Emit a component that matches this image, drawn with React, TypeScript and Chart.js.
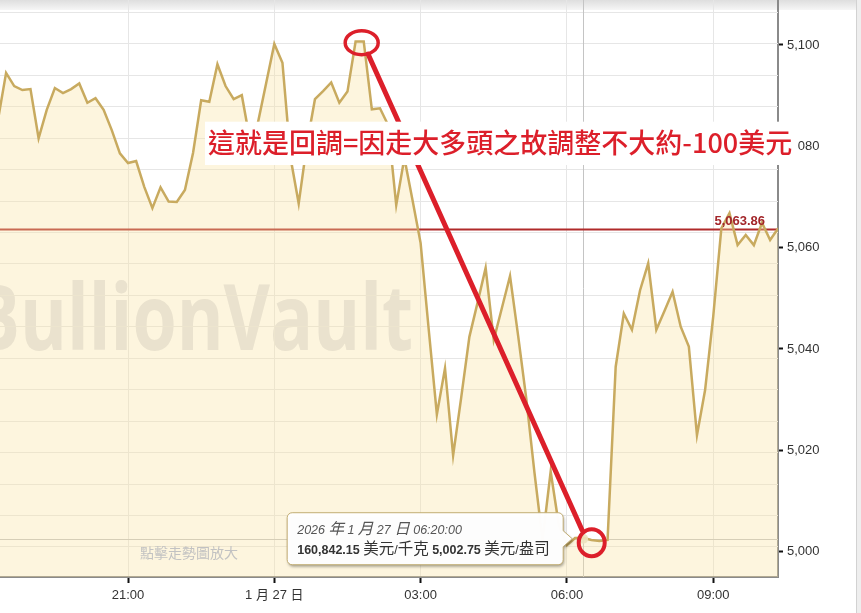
import { useEffect, useRef } from 'react';
import { Chart, registerables } from 'chart.js';

Chart.register(...registerables);

// ---- data ----
// minutes counted from 1月26日 00:00; one price every 10 minutes from 18:20
const START_MINUTE = 1100;
const STEP_MINUTES = 10;
const PRICES = [
  5085.2, 5094.5, 5091.9, 5091.1, 5091.3, 5081.6, 5087.2, 5091.5, 5090.5, 5091.3,
  5092.4, 5088.6, 5089.5, 5087.2, 5083.2, 5078.6, 5076.7, 5077.1, 5072.0, 5067.8,
  5071.9, 5069.1, 5069.0, 5071.4, 5078.7, 5089.1, 5088.8, 5096.2, 5091.9, 5089.3,
  5090.1, 5081.2, 5084.8, 5092.5, 5100.2, 5096.5, 5077.7, 5068.7, 5080.3, 5089.3,
  5090.9, 5092.6, 5088.6, 5090.8, 5100.7, 5100.7, 5087.3, 5087.5, 5084.2, 5068.4,
  5077.7, 5069.4, 5060.9, 5043.8, 5027.1, 5036.2, 5019.0, 5030.5, 5042.4, 5049.1,
  5056.0, 5041.8, 5048.1, 5054.4, 5042.6, 5030.2, 5015.7, 5002.3, 5015.8, 5005.3,
  5001.3, 5002.7, 5002.75, 5002.3, 5002.1, 5002.3, 5036.5, 5047.0, 5043.8, 5051.6,
  5056.9, 5043.8, 5047.5, 5051.3, 5044.4, 5040.5, 5023.0, 5031.9, 5046.4, 5063.8,
  5066.8, 5060.5, 5062.5, 5060.5, 5064.9, 5061.5, 5063.86,
];
const X_MIN = 1102.5;
const X_MAX = 2059.7;
const Y_MIN = 4995.0;
const Y_MAX = 5108.88;
const X_TICKS = [1260, 1440, 1620, 1800, 1980];
const X_TICK_LABELS = ['21:00', '1 月 27 日', '03:00', '06:00', '09:00'];
const Y_TICKS = [5000, 5020, 5040, 5060, 5080, 5100];
const GRID_ORIGIN = 5100.34;
const GRID_STEP = 6.207;
const CURRENT_PRICE = 5063.86;
const CURRENT_PRICE_LABEL = '5,063.86';

const HOVER_INDEX = 72;
const HOVER_DATE = '2026 年 1 月 27 日 06:20:00';
const HOVER_PER_KG = '160,842.15';
const HOVER_PER_OZ = '5,002.75';
const UNIT_KG = ' 美元/千克 ';
const UNIT_OZ = ' 美元/盎司';

const WATERMARK = 'BullionVault';
const CLICK_HINT = '點擊走勢圖放大';
const NOTE_TEXT = '這就是回調=因走大多頭之故調整不大約-100美元';
// annotation anchors in data space [minute, price]
const NOTE_BOX_ANCHOR = [1354.7, 5080.6];
const PEAK_MARK = [1547.5, 5100.45];
const TROUGH_MARK = [1830.5, 5001.77];
const ARROW_FROM = [1555.3, 5098.22];
const ARROW_TO = [1818.6, 5004.28];

const FONT = '"Liberation Sans", Arial, "Noto Sans CJK TC", sans-serif';
const CJK_FONT = '"Noto Sans CJK TC", sans-serif';
const RED = '#dc1f2a';

// draw text mixing latin (latinSize) and CJK (cjkSize) runs
function drawMixed(ctx: any, text: string, x: number, y: number, style: string, latinSize: number, cjkSize: number) {
  const runs = text.match(/[\u3000-\u9fff\uff00-\uffef]+|[^\u3000-\u9fff\uff00-\uffef]+/g) || [];
  let cx = x;
  for (const run of runs) {
    const cjk = /[\u3000-\u9fff\uff00-\uffef]/.test(run);
    ctx.font = style + (cjk ? cjkSize + 'px ' + CJK_FONT : latinSize + 'px ' + FONT);
    ctx.fillText(run, cx, y);
    cx += ctx.measureText(run).width;
  }
  return cx;
}

export default function App() {
  const ref = useRef<HTMLCanvasElement>(null);

  useEffect(() => {
    const canvas = ref.current!;
    const data = PRICES.map((v, i) => ({ x: START_MINUTE + i * STEP_MINUTES, y: v }));

    const overlay = {
      id: 'overlay',
      beforeDraw(chart: any) {
        const { ctx, width, height, chartArea } = chart;
        ctx.save();
        ctx.fillStyle = '#ffffff';
        ctx.fillRect(0, 0, width, height);
        const g = ctx.createLinearGradient(0, 0, 0, 10);
        g.addColorStop(0, '#dedede');
        g.addColorStop(1, '#f6f6f6');
        ctx.fillStyle = g;
        ctx.fillRect(0, 0, 856, 10);
        ctx.fillStyle = '#eeeeee';
        ctx.fillRect(856, 0, width - 856, height);
        ctx.fillStyle = '#d2d2d2';
        ctx.fillRect(856, 0, 1, height);
        // watermark
        ctx.save();
        ctx.beginPath();
        ctx.rect(chartArea.left, chartArea.top, chartArea.right - chartArea.left, chartArea.bottom - chartArea.top);
        ctx.clip();
        ctx.font = 'bold 84px "Open Sans", Lato, sans-serif';
        const tail = ctx.measureText(WATERMARK.slice(1)).width;
        const sx = 393 / tail;
        ctx.translate(chartArea.left + 413, chartArea.top + 350);
        ctx.scale(sx, 1.08);
        ctx.textAlign = 'right';
        ctx.textBaseline = 'alphabetic';
        ctx.fillStyle = '#e2e2e6';
        ctx.fillText(WATERMARK, 0, 0);
        ctx.restore();
        ctx.restore();
      },
      beforeDatasetsDraw(chart: any) {
        const { ctx, chartArea } = chart;
        const xs = chart.scales.x;
        const ys = chart.scales.y;
        ctx.save();
        ctx.strokeStyle = '#e6e6e6';
        ctx.lineWidth = 1;
        for (let k = -3; k < 25; k++) {
          const py = ys.getPixelForValue(GRID_ORIGIN - k * GRID_STEP);
          if (py < chartArea.top || py > chartArea.bottom - 2) continue;
          const yy = Math.round(py) + 0.5;
          ctx.beginPath();
          ctx.moveTo(chartArea.left, yy);
          ctx.lineTo(chartArea.right, yy);
          ctx.stroke();
        }
        const hx = xs.getPixelForValue(START_MINUTE + HOVER_INDEX * STEP_MINUTES);
        const hy = ys.getPixelForValue(PRICES[HOVER_INDEX]);
        ctx.strokeStyle = '#c4c4c4';
        ctx.beginPath();
        ctx.moveTo(Math.round(hx) + 0.5, chartArea.top);
        ctx.lineTo(Math.round(hx) + 0.5, chartArea.bottom);
        ctx.moveTo(chartArea.left, Math.round(hy) + 1.5);
        ctx.lineTo(chartArea.right, Math.round(hy) + 1.5);
        ctx.stroke();
        const cy = ys.getPixelForValue(CURRENT_PRICE);
        ctx.strokeStyle = '#b02a2a';
        ctx.lineWidth = 2;
        ctx.beginPath();
        ctx.moveTo(chartArea.left, cy + 1.5);
        ctx.lineTo(chartArea.right, cy + 1.5);
        ctx.stroke();
        ctx.restore();
      },
      afterDatasetsDraw(chart: any) {
        const { ctx, chartArea } = chart;
        const ys = chart.scales.y;
        const xs = chart.scales.x;
        ctx.save();
        const cy = ys.getPixelForValue(CURRENT_PRICE);
        ctx.font = 'bold 13px ' + FONT;
        ctx.fillStyle = '#a3262a';
        ctx.textAlign = 'right';
        ctx.textBaseline = 'alphabetic';
        ctx.fillText(CURRENT_PRICE_LABEL, chartArea.right - 13, cy - 3);
        ctx.font = '14px ' + CJK_FONT;
        ctx.fillStyle = '#c2c2c2';
        ctx.textAlign = 'center';
        ctx.textBaseline = 'middle';
        ctx.fillText(CLICK_HINT, chartArea.left + 189, chartArea.bottom - 24);
        const hx = xs.getPixelForValue(START_MINUTE + HOVER_INDEX * STEP_MINUTES);
        const hy = ys.getPixelForValue(PRICES[HOVER_INDEX]);
        ctx.fillStyle = 'rgba(236,226,190,0.9)';
        ctx.beginPath();
        ctx.arc(hx, hy + 1, 5, 0, Math.PI * 2);
        ctx.fill();
        const bR = hx - 20, bL = bR - 276, bT = hy - 25, bB = hy + 27, r = 5;
        ctx.save();
        ctx.beginPath();
        ctx.moveTo(bL + r, bT);
        ctx.lineTo(bR - r, bT);
        ctx.arcTo(bR, bT, bR, bT + r, r);
        ctx.lineTo(bR, hy - 7);
        ctx.lineTo(hx - 11, hy + 1);
        ctx.lineTo(bR, hy + 9);
        ctx.lineTo(bR, bB - r);
        ctx.arcTo(bR, bB, bR - r, bB, r);
        ctx.lineTo(bL + r, bB);
        ctx.arcTo(bL, bB, bL, bB - r, r);
        ctx.lineTo(bL, bT + r);
        ctx.arcTo(bL, bT, bL + r, bT, r);
        ctx.closePath();
        ctx.shadowColor = 'rgba(0,0,0,0.35)';
        ctx.shadowOffsetX = 1;
        ctx.shadowOffsetY = 2;
        ctx.shadowBlur = 3;
        ctx.fillStyle = 'rgba(255,255,255,0.98)';
        ctx.fill();
        ctx.shadowColor = 'rgba(0,0,0,0)';
        ctx.strokeStyle = '#c2ad72';
        ctx.lineWidth = 1;
        ctx.stroke();
        ctx.restore();
        ctx.textAlign = 'left';
        ctx.textBaseline = 'alphabetic';
        ctx.fillStyle = '#555555';
        drawMixed(ctx, HOVER_DATE, bL + 10, hy - 4, 'italic ', 12.5, 15.5);
        let tx = bL + 10;
        const ty = hy + 16;
        ctx.fillStyle = '#333333';
        tx = drawMixed(ctx, HOVER_PER_KG, tx, ty, 'bold ', 12.5, 15.5);
        tx = drawMixed(ctx, UNIT_KG, tx, ty, '', 12.5, 15.5);
        tx = drawMixed(ctx, HOVER_PER_OZ, tx, ty, 'bold ', 12.5, 15.5);
        drawMixed(ctx, UNIT_OZ, tx, ty, '', 12.5, 15.5);
        ctx.restore();
      },
      afterDraw(chart: any) {
        const { ctx } = chart;
        const xs = chart.scales.x;
        const ys = chart.scales.y;
        const P = (a: number[]) => [xs.getPixelForValue(a[0]), ys.getPixelForValue(a[1])];
        ctx.save();
        const [ax, ay] = P(ARROW_FROM);
        const [bx, by] = P(ARROW_TO);
        ctx.strokeStyle = RED;
        ctx.lineWidth = 5;
        ctx.lineCap = 'round';
        ctx.beginPath();
        ctx.moveTo(ax, ay);
        ctx.lineTo(bx, by);
        ctx.stroke();
        ctx.lineWidth = 3.5;
        const [px, py] = P(PEAK_MARK);
        ctx.beginPath();
        ctx.ellipse(px, py, 16.5, 12, 0, 0, Math.PI * 2);
        ctx.stroke();
        const [qx, qy] = P(TROUGH_MARK);
        ctx.lineWidth = 4;
        ctx.beginPath();
        ctx.ellipse(qx, qy, 13, 13.5, 0, 0, Math.PI * 2);
        ctx.stroke();
        const [nx, ny] = P(NOTE_BOX_ANCHOR);
        ctx.font = '500 27px ' + CJK_FONT;
        const w = ctx.measureText(NOTE_TEXT).width;
        ctx.fillStyle = '#ffffff';
        ctx.fillRect(nx, ny - 21.6, w + 8, 43.3);
        ctx.fillStyle = RED;
        ctx.textAlign = 'left';
        ctx.textBaseline = 'middle';
        ctx.fillText(NOTE_TEXT, nx + 3, ny - 1);
        ctx.restore();
      },
    };

    const chart = new Chart(canvas, {
      type: 'line',
      data: {
        datasets: [
          {
            data,
            borderColor: '#c8aa5f',
            borderWidth: 2.5,
            backgroundColor: 'rgba(248,225,160,0.35)',
            fill: 'start',
            pointRadius: 0,
            tension: 0,
          },
        ],
      },
      options: {
        responsive: false,
        animation: false,
        devicePixelRatio: 1,
        events: [],
        layout: { padding: 0 },
        plugins: { legend: { display: false }, tooltip: { enabled: false } },
        scales: {
          x: {
            type: 'linear',
            min: X_MIN,
            max: X_MAX,
            afterBuildTicks: (s: any) => {
              s.ticks = X_TICKS.map((v) => ({ value: v }));
            },
            afterFit: (s: any) => {
              s.height = 36;
              s.paddingLeft = 0;
              s.paddingRight = 0;
            },
            ticks: {
              callback: (v: any) => X_TICK_LABELS[X_TICKS.indexOf(Number(v))],
              color: '#333333',
              font: { size: 13, family: FONT },
              padding: 5,
              maxRotation: 0,
              autoSkip: false,
            },
            grid: { color: '#e6e6e6', lineWidth: 1, tickColor: '#111111', tickLength: 6, tickWidth: 2 },
            border: { color: '#8a8a8a', width: 2 },
          },
          y: {
            position: 'right',
            min: Y_MIN,
            max: Y_MAX,
            afterBuildTicks: (s: any) => {
              s.ticks = Y_TICKS.map((v) => ({ value: v }));
            },
            afterFit: (s: any) => {
              s.width = 83;
              s.paddingTop = 0;
              s.paddingBottom = 0;
            },
            ticks: {
              callback: (v: any) => Number(v).toLocaleString('en-US'),
              color: '#333333',
              font: { size: 13, family: FONT },
              padding: 4,
            },
            grid: { drawOnChartArea: false, tickColor: '#111111', tickLength: 5, tickWidth: 2 },
            border: { color: '#8a8a8a', width: 2 },
          },
        },
      },
      plugins: [overlay],
    } as any);

    return () => chart.destroy();
  }, []);

  return (
    <div style={{ position: 'absolute', left: 0, top: 0, width: 861, height: 613, background: '#fff' }}>
      <canvas ref={ref} width={861} height={613} style={{ display: 'block', width: 861, height: 613 }} />
    </div>
  );
}
